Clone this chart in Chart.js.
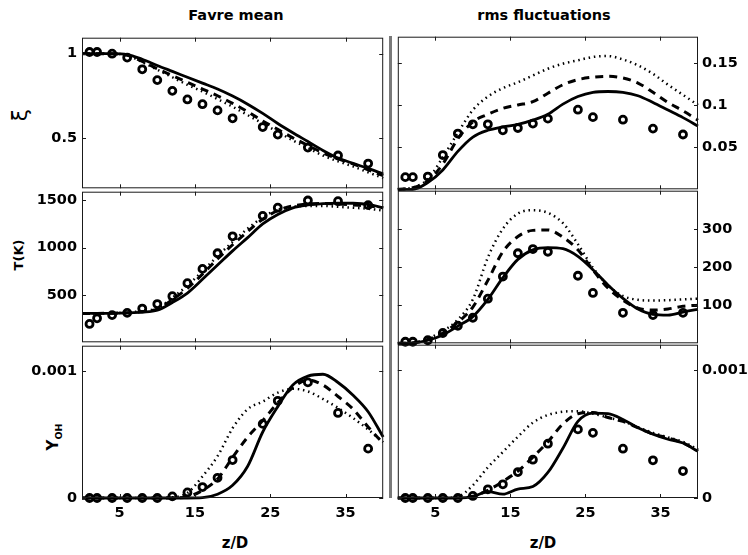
<!DOCTYPE html>
<html>
<head>
<meta charset="utf-8">
<script src="https://cdn.jsdelivr.net/npm/chart.js@4.4.1/dist/chart.umd.min.js"></script>
<style>
  body { margin: 0; width: 748px; height: 555px; overflow: hidden; background: #fff; position: relative;
         font-family: 'DejaVu Sans', sans-serif; font-weight: bold; color: #000; }
  canvas { position: absolute; }
  .lab { position: absolute; white-space: nowrap; width: 160px; height: 24px; margin-left: -80px; margin-top: -12px;
         line-height: 24px; text-align: center; }
  .rot { transform: rotate(-90deg); }
  #sep { position: absolute; left: 388.5px; top: 36px; width: 3px; height: 462px; background: #7a7a7a; z-index: 5; }
</style>
</head>
<body>
<div class="lab" style="left:236px;top:15px;font-size:14.5px">Favre mean</div>
<div class="lab" style="left:544px;top:15px;font-size:14.5px">rms fluctuations</div>
<div class="lab rot" style="left:20px;top:115px;font-size:22px;font-weight:normal">ξ</div>
<div class="lab rot" style="left:19px;top:255px;font-size:13px">T(K)</div>
<div class="lab rot" style="left:53px;top:437px;font-size:15px">Y<sub style="font-size:9.5px;line-height:0">OH</sub></div>
<div class="lab" style="left:235px;top:543px;font-size:15px">z/D</div>
<div class="lab" style="left:543px;top:543px;font-size:15px">z/D</div>
<div id="sep"></div>

<script>
// axial positions
const zLine = [0, 2, 4, 6, 8, 10, 12, 14, 16, 18, 20, 22, 24, 26, 28, 30, 32, 34, 36, 38, 40];
const zExp = [1, 2, 4, 6, 8, 10, 12, 14, 16, 18, 20, 24, 26, 30, 34, 38];
const zTicks = [5, 15, 25, 35];

// mixture fraction, Favre mean
const xiMeanExp = [1.01, 1.01, 1.0, 0.977, 0.907, 0.843, 0.779, 0.728, 0.70, 0.663, 0.616, 0.564, 0.519, 0.442, 0.395, 0.347];
const xiMeanSolid = [1.0, 1.0, 1.0, 0.995, 0.967, 0.93, 0.895, 0.86, 0.825, 0.79, 0.748, 0.70, 0.645, 0.585, 0.53, 0.478, 0.425, 0.38, 0.348, 0.318, 0.285];
const xiMeanDashed = [1.0, 1.0, 1.0, 0.99, 0.955, 0.91, 0.87, 0.83, 0.79, 0.75, 0.705, 0.655, 0.60, 0.55, 0.50, 0.455, 0.41, 0.375, 0.345, 0.31, 0.275];
const xiMeanDotted = [1.0, 1.0, 1.0, 0.99, 0.95, 0.905, 0.86, 0.815, 0.775, 0.73, 0.685, 0.635, 0.585, 0.535, 0.485, 0.44, 0.395, 0.36, 0.33, 0.295, 0.26];

// mixture fraction, rms
const xiRmsExp = [0.0144, 0.0144, 0.0151, 0.0406, 0.0661, 0.0771, 0.0771, 0.070, 0.0727, 0.0779, 0.0838, 0.0944, 0.0856, 0.0826, 0.072, 0.065];
const xiRmsSolid = [0, 0, 0.008, 0.023, 0.045, 0.062, 0.07, 0.074, 0.077, 0.082, 0.089, 0.101, 0.110, 0.115, 0.116, 0.115, 0.111, 0.103, 0.094, 0.085, 0.075];
const xiRmsDashed = [0, 0.002, 0.01, 0.03, 0.06, 0.08, 0.089, 0.096, 0.100, 0.104, 0.114, 0.124, 0.130, 0.133, 0.134, 0.132, 0.126, 0.115, 0.103, 0.093, 0.082];
const xiRmsDotted = [0, 0.002, 0.012, 0.038, 0.067, 0.094, 0.11, 0.12, 0.127, 0.135, 0.143, 0.149, 0.153, 0.157, 0.158, 0.154, 0.147, 0.137, 0.124, 0.112, 0.1];

// temperature, Favre mean
const tMeanExp = [194, 253, 287, 311, 356, 404, 487, 624, 775, 940, 1119, 1335, 1421, 1497, 1490, 1448];
const tMeanSolid = [305, 305, 306, 310, 318, 338, 420, 520, 665, 815, 965, 1105, 1250, 1350, 1420, 1450, 1465, 1470, 1468, 1455, 1420];
const tMeanDashed = [305, 305, 307, 312, 325, 350, 450, 570, 720, 880, 1030, 1170, 1300, 1390, 1440, 1460, 1465, 1460, 1450, 1440, 1420];
const tMeanDotted = [305, 305, 308, 315, 330, 360, 470, 600, 750, 910, 1060, 1200, 1320, 1400, 1430, 1440, 1440, 1430, 1420, 1410, 1390];

// temperature, rms
const tRmsExp = [4, 4, 8, 27, 46, 67, 117, 175, 236, 247, 240, 177, 132, 80, 74, 80];
const tRmsSolid = [0, 1, 8, 22, 45, 70, 115, 172, 220, 245, 251, 248, 228, 193, 153, 118, 90, 76, 74, 82, 89];
const tRmsDashed = [0, 1, 10, 27, 55, 95, 165, 240, 280, 296, 297, 278, 245, 192, 145, 113, 92, 87, 90, 97, 100];
const tRmsDotted = [0, 1, 12, 32, 62, 115, 225, 300, 340, 349, 342, 315, 260, 198, 152, 124, 114, 112, 113, 115, 117];

// OH mass fraction, Favre mean
const ohMeanExp = [0, 0, 0, 0, 0, 0, 0.000013, 0.000044, 0.000086, 0.000159, 0.000299, 0.000584, 0.000766, 0.000911, 0.00067, 0.000389];
const ohMeanSolid = [0, 0, 0, 0, 0, 0, 0, 0, 0.000003, 0.00003, 0.0001, 0.00025, 0.00052, 0.00072, 0.00089, 0.00096, 0.000975, 0.00091, 0.00081, 0.00068, 0.00048];
const ohMeanDashed = [0, 0, 0, 0, 0, 0, 0, 0.00001, 0.00006, 0.00015, 0.00032, 0.00048, 0.00061, 0.00075, 0.00087, 0.00093, 0.00089, 0.0008, 0.0007, 0.00056, 0.00043];
const ohMeanDotted = [0, 0, 0, 0, 0, 0, 0.000005, 0.00004, 0.00017, 0.00033, 0.00055, 0.0007, 0.00076, 0.00083, 0.00086, 0.00084, 0.00078, 0.00071, 0.00063, 0.00054, 0.00044];

// OH mass fraction, rms
const ohRmsExp = [0, 0, 0, 0, 0, 0.000016, 0.000068, 0.000107, 0.000203, 0.0003, 0.000425, 0.000537, 0.00051, 0.000386, 0.000295, 0.000211];
const ohRmsSolid = [0, 0, 0, 0, 0, 0.00001, 0.00005, 0.00003, 0.00007, 0.00009, 0.0002, 0.00039, 0.0006, 0.000665, 0.00066, 0.000615, 0.00055, 0.0005, 0.00046, 0.00043, 0.000365];
const ohRmsDashed = [0, 0, 0, 0, 0, 0.000015, 0.00006, 0.00013, 0.00021, 0.00032, 0.00044, 0.00058, 0.00066, 0.00067, 0.00063, 0.0006, 0.00055, 0.0005, 0.00047, 0.00043, 0.00037];
const ohRmsDotted = [0, 0, 0, 0, 0.00001, 0.0001, 0.00024, 0.00036, 0.00048, 0.00059, 0.00065, 0.000675, 0.00068, 0.00066, 0.00063, 0.0006, 0.000555, 0.00051, 0.000475, 0.00044, 0.00038];

Chart.defaults.font.family = "'DejaVu Sans', sans-serif";
Chart.defaults.font.size = 14.5;
Chart.defaults.font.weight = 'bold';
Chart.defaults.color = '#000';

// matlab style box with inward ticks on every side
const boxTicks = {
  id: 'boxTicks',
  afterDatasetsDraw(chart, args, opts) {
    const { ctx, chartArea: a, scales: { x, y } } = chart;
    ctx.save();
    ctx.strokeStyle = '#1a1a1a';
    ctx.lineWidth = 1;
    ctx.strokeRect(a.left + 0.5, a.top + 0.5, a.width - 1, a.height - 1);
    ctx.beginPath();
    opts.yTicks.forEach(v => {
      const py = Math.round(y.getPixelForValue(v)) + 0.5;
      ctx.moveTo(a.left, py); ctx.lineTo(a.left + 4, py);
      ctx.moveTo(a.right, py); ctx.lineTo(a.right - 4, py);
    });
    zTicks.forEach(v => {
      const px = Math.round(x.getPixelForValue(v)) + 0.5;
      ctx.moveTo(px, a.bottom); ctx.lineTo(px, a.bottom - 4);
      ctx.moveTo(px, a.top); ctx.lineTo(px, a.top + 4);
    });
    ctx.stroke();
    ctx.restore();
  }
};

function pts(xs, ys) {
  return xs.map((x, i) => ({ x: x, y: ys[i] }));
}

function makePanel(p) {
  const cv = document.createElement('canvas');
  cv.width = p.width;
  cv.height = p.height;
  cv.style.left = p.left + 'px';
  cv.style.top = p.top + 'px';
  document.body.appendChild(cv);

  const line = (data, dash, width) => ({
    data: pts(zLine, data),
    borderColor: '#000',
    borderWidth: width,
    borderDash: dash,
    pointRadius: 0,
    showLine: true,
    fill: false,
    cubicInterpolationMode: 'monotone',
    clip: 12,
  });

  return new Chart(cv, {
    type: 'scatter',
    data: {
      datasets: [
        {
          data: pts(zExp, p.exp),
          showLine: false,
          pointStyle: 'circle',
          pointRadius: 3.5,
          pointBorderWidth: 2.8,
          pointBorderColor: '#000',
          pointBackgroundColor: 'rgba(0,0,0,0)',
          clip: 12,
        },
        line(p.solid, [], 2.8),
        line(p.dashed, [8, 6], 3),
        line(p.dotted, [1.5, 3.8], 2.5),
      ]
    },
    options: {
      responsive: false,
      animation: false,
      layout: {
        padding: { left: 0, right: p.side === 'left' ? 1 : 0, top: 12, bottom: p.showX ? 0 : 12 }
      },
      scales: {
        x: {
          type: 'linear',
          min: 0,
          max: 40,
          display: p.showX,
          grid: { display: false, drawTicks: false },
          border: { display: false },
          ticks: { padding: 7, callback: v => String(v) },
          afterBuildTicks: s => { s.ticks = zTicks.map(v => ({ value: v })); },
          afterFit: s => { s.height = p.showX ? 40 : 0; },
        },
        y: {
          type: 'linear',
          position: p.side,
          min: p.yMin,
          max: p.yMax,
          grid: { display: false, drawTicks: false },
          border: { display: false },
          ticks: { padding: p.side === 'left' ? 5 : 4, callback: v => String(v) },
          afterBuildTicks: s => { s.ticks = p.yTicks.map(v => ({ value: v })); },
          afterFit: s => { s.width = p.axisW; },
        }
      },
      plugins: {
        legend: { display: false },
        tooltip: { enabled: false },
        boxTicks: { yTicks: p.yTicks },
      }
    },
    plugins: [boxTicks]
  });
}

const rowTop = [36, 190, 344];

makePanel({ left: 0, top: rowTop[0] - 12, width: 390, height: 178, side: 'left', axisW: 82, showX: false,
  yMin: 0.2, yMax: 1.095, yTicks: [0.5, 1],
  exp: xiMeanExp, solid: xiMeanSolid, dashed: xiMeanDashed, dotted: xiMeanDotted });
makePanel({ left: 391, top: rowTop[0] - 12, width: 357, height: 178, side: 'right', axisW: 50, showX: false,
  yMin: 0, yMax: 0.181, yTicks: [0.05, 0.1, 0.15],
  exp: xiRmsExp, solid: xiRmsSolid, dashed: xiRmsDashed, dotted: xiRmsDotted });
makePanel({ left: 0, top: rowTop[1] - 12, width: 390, height: 178, side: 'left', axisW: 82, showX: false,
  yMin: 0, yMax: 1590, yTicks: [500, 1000, 1500],
  exp: tMeanExp, solid: tMeanSolid, dashed: tMeanDashed, dotted: tMeanDotted });
makePanel({ left: 391, top: rowTop[1] - 12, width: 357, height: 178, side: 'right', axisW: 50, showX: false,
  yMin: 0, yMax: 400, yTicks: [100, 200, 300],
  exp: tRmsExp, solid: tRmsSolid, dashed: tRmsDashed, dotted: tRmsDotted });
makePanel({ left: 0, top: rowTop[2] - 12, width: 390, height: 206, side: 'left', axisW: 82, showX: true,
  yMin: 0, yMax: 0.0012, yTicks: [0, 0.001],
  exp: ohMeanExp, solid: ohMeanSolid, dashed: ohMeanDashed, dotted: ohMeanDotted });
makePanel({ left: 391, top: rowTop[2] - 12, width: 357, height: 206, side: 'right', axisW: 50, showX: true,
  yMin: 0, yMax: 0.0012, yTicks: [0, 0.001],
  exp: ohRmsExp, solid: ohRmsSolid, dashed: ohRmsDashed, dotted: ohRmsDotted });
</script>
</body>
</html>
